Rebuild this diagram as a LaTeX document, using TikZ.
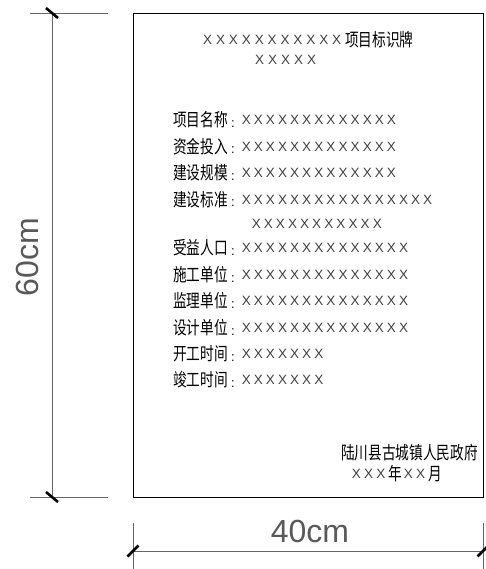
\documentclass[tikz,border=0pt]{standalone}
\usepackage{fontspec}
\setmainfont{Liberation Sans}
\newfontfamily\cjk{Noto Sans CJK SC}[FakeStretch=0.76]
\newcommand\xrow[2][12.1pt]{\foreach \i in {1,...,#2}{\makebox[#1]{X}}}
\begin{document}
\begin{tikzpicture}[x=1pt,y=-1pt,
  dim/.style={draw=black!60, line width=0.8pt},
  tickmark/.style={line width=2.6pt, black},
  xt/.style={inner sep=0pt, font=\fontsize{13.5}{13.5}\selectfont, text=black!75, anchor=west},
  cn/.style={inner sep=0pt, font=\cjk\fontsize{18}{18}\selectfont, anchor=west},
  colon/.style={inner sep=0pt, font=\fontsize{13}{13}\selectfont},
  dimtext/.style={inner sep=0pt, font=\fontsize{32}{32}\selectfont, text=black!65}]
\useasboundingbox (0,0) rectangle (485,569);
% board
\node[draw, line width=0.9pt, inner sep=0pt, minimum width=350pt, minimum height=484pt] (board) at (308,255) {};
% vertical dimension
\coordinate (vt) at (52,13);
\coordinate (vb) at (52,497);
\coordinate (et1) at (30,13); \coordinate (et2) at (108,13);
\coordinate (eb1) at (30,497); \coordinate (eb2) at (108,497);
\draw[dim] (et1) -- (et2);
\draw[dim] (eb1) -- (eb2);
\draw[dim] (vt) -- (vb);
\draw[tickmark, shift={(vt)}] (-6,-5) -- (6,5);
\draw[tickmark, shift={(vb)}] (-6,-5) -- (6,5);
\node[dimtext, rotate=90] (h60) at (27,257) {60cm};
% horizontal dimension
\coordinate (hl) at (133,551);
\coordinate (hr) at (483,551);
\coordinate (el1) at (133,523); \coordinate (el2) at (133,569);
\coordinate (er1) at (483,523); \coordinate (er2) at (483,569);
\draw[dim] (el1) -- (el2);
\draw[dim] (er1) -- (er2);
\draw[dim] (hl) -- (hr);
\draw[tickmark, shift={(hl)}] (-5.5,5.5) -- (5.5,-5.5);
\draw[tickmark, shift={(hr)}] (-5.5,5.5) -- (5.5,-5.5);
\node[dimtext] (w40) at (310,531) {40cm};
% title
\node[xt] (t1x) at (201,40) {\xrow[12.9pt]{11}};
\node[cn] (t1c) at (345,40) {项目标识牌};
\node[xt] (t2x) at (253,60) {\xrow[13pt]{5}};
% rows
\foreach \name/\yy/\n [count=\k] in {项目名称/120/13, 资金投入/146.5/13, 建设规模/173/13, 建设标准/199.5/16,
  受益人口/248/14, 施工单位/275/14, 监理单位/301/14, 设计单位/328/14, 开工时间/354/7, 竣工时间/380/7}{
  \node[cn] (lab\k) at (173,\yy) {\name};
  \node[colon] (col\k) at (233,\yy+4) {:};
  \node[xt] (val\k) at (240,\yy) {\xrow{\n}};
}
\node[xt] (cont) at (250,224) {\xrow{11}};
% footer
\node[cn] (org) at (341,453) {陆川县古城镇人民政府};
\node[xt] (d1) at (350,474) {\xrow[12.3pt]{3}};
\node[cn] (d2) at (388,474) {年};
\node[xt] (d3) at (402,474) {\xrow[12.3pt]{2}};
\node[cn] (d4) at (428,474) {月};
\end{tikzpicture}
\end{document}
